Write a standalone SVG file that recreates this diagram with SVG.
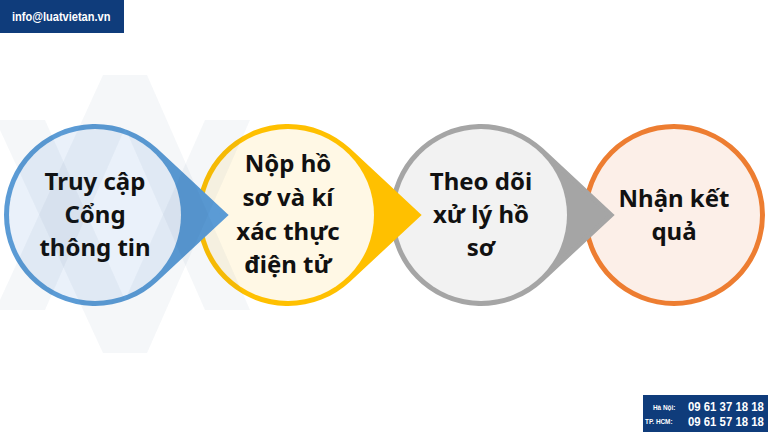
<svg xmlns="http://www.w3.org/2000/svg" width="768" height="432" viewBox="0 0 768 432">
  <style>
    .lbl { font-family: "Noto Sans", "Open Sans", "DejaVu Sans", sans-serif; font-weight: 700; font-size: 24px; fill: #111111; text-anchor: middle; }
    .ring { stroke-width: 5; stroke-linejoin: miter; }
    .wmshape { fill: #1F4E79; fill-opacity: 0.045; }
    .hdr { font-family: "Liberation Sans", Arial, sans-serif; font-weight: 700; fill: #FFFFFF; }
  </style>
  <defs>
    <path id="drop" d="M130,0 L60.25,-64.83 A88.5,88.5 0 1 0 60.25,64.83 Z"/>
  </defs>
  <rect width="768" height="432" fill="#FFFFFF"/>

  <!-- nodes drawn right to left so each arrow tip lies over the next circle -->
  <g id="node4">
    <circle cx="674" cy="215" r="88.5" fill="#FCEFE8" stroke="#ED7D31" stroke-width="5"/>
    <text class="lbl" x="674" y="207">Nhận kết</text>
    <text class="lbl" x="674" y="240">quả</text>
  </g>
  <g id="node3">
    <use href="#drop" transform="translate(481,215)" fill="#A5A5A5" stroke="#A5A5A5" class="ring"/>
    <circle cx="481" cy="215" r="86" fill="#F2F2F2"/>
    <text class="lbl" x="481" y="190">Theo dõi</text>
    <text class="lbl" x="481" y="223">xử lý hồ</text>
    <text class="lbl" x="481" y="256">sơ</text>
  </g>
  <g id="node2">
    <use href="#drop" transform="translate(288,215)" fill="#FFC000" stroke="#FFC000" class="ring"/>
    <circle cx="288" cy="215" r="86" fill="#FFF8E5"/>
    <text class="lbl" x="288" y="172">Nộp hồ</text>
    <text class="lbl" x="288" y="206">sơ và kí</text>
    <text class="lbl" x="288" y="240">xác thực</text>
    <text class="lbl" x="288" y="273">điện tử</text>
  </g>
  <g id="node1">
    <use href="#drop" transform="translate(95,215)" fill="#5B9BD5" stroke="#5B9BD5" class="ring"/>
    <circle cx="95" cy="215" r="86" fill="#EAF1FA"/>
    <text class="lbl" x="95" y="190">Truy cập</text>
    <text class="lbl" x="95" y="223">Cổng</text>
    <text class="lbl" x="95" y="256">thông tin</text>
  </g>
  <g id="connectors"></g>

  <!-- faint watermark logo -->
  <g id="watermark">
    <polygon class="wmshape" points="103,75 147,75 250,310 205,310 125,128 45,310 0,310 0,300"/>
    <polygon class="wmshape" points="103,353 147,353 250,120 205,120 125,300 45,120 0,120 0,130"/>
  </g>

  <g id="header">
    <rect x="0" y="0" width="124" height="33" fill="#0F3C7B"/>
    <g transform="translate(12,21) scale(0.85,1)">
      <text class="hdr" x="0" y="0" font-size="13">info@luatvietan.vn</text>
    </g>
  </g>
  <g id="phones">
    <rect x="643" y="395" width="125" height="37" fill="#0F3C7B"/>
    <g transform="translate(653,410) scale(0.8,1)">
      <text class="hdr" x="0" y="0" font-size="8">Hà Nội:</text>
    </g>
    <g transform="translate(688,411) scale(0.91,1)">
      <text class="hdr" x="0" y="0" font-size="12.5">09 61 37 18 18</text>
    </g>
    <g transform="translate(645,424) scale(0.8,1)">
      <text class="hdr" x="0" y="0" font-size="8">TP. HCM:</text>
    </g>
    <g transform="translate(688,426) scale(0.91,1)">
      <text class="hdr" x="0" y="0" font-size="12.5">09 61 57 18 18</text>
    </g>
  </g>
</svg>
